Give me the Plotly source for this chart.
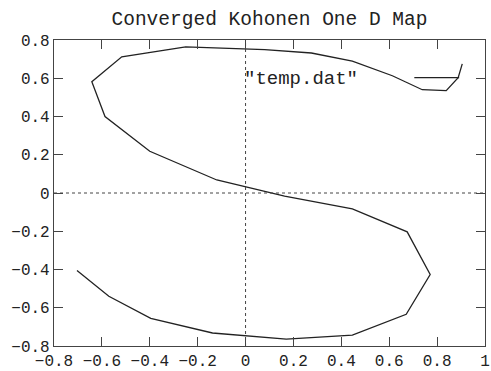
import plotly.graph_objects as go

# Kohonen 1-D map node positions, in chain order
node_x = [-0.704, -0.571, -0.396, -0.138, 0.17, 0.446, 0.671, 0.771, 0.675, 0.446,
          0.163, -0.12, -0.40, -0.587, -0.642, -0.517, -0.25, 0.08, 0.275, 0.446,
          0.613, 0.738, 0.838, 0.888, 0.905]
node_y = [-0.405, -0.54, -0.655, -0.732, -0.764, -0.743, -0.634, -0.426, -0.203, -0.083,
          -0.016, 0.068, 0.218, 0.40, 0.582, 0.712, 0.764, 0.75, 0.732, 0.69,
          0.613, 0.54, 0.535, 0.603, 0.675]

x_ticks = [-0.8, -0.6, -0.4, -0.2, 0, 0.2, 0.4, 0.6, 0.8, 1]
y_ticks = [-0.8, -0.6, -0.4, -0.2, 0, 0.2, 0.4, 0.6, 0.8]

title_text = "Converged Kohonen One D Map"
series_name = '"temp.dat"'

FONT = "Liberation Mono, Courier New, monospace"
INK = "#222222"

fig = go.Figure()
fig.add_trace(go.Scatter(x=node_x, y=node_y, mode="lines",
                         line=dict(color=INK, width=1.3), name=series_name,
                         showlegend=False))

axis_common = dict(showgrid=False, zeroline=False, showline=True, linecolor="#444444",
                   linewidth=1.2, mirror="ticks", ticks="inside", ticklen=9,
                   tickwidth=1.2, tickcolor="#444444", automargin=False,
                   tickfont=dict(family=FONT, size=16, color=INK))

fig.update_xaxes(range=[-0.8, 1], tickvals=x_ticks,
                 ticktext=[("%g" % v).replace("-", "\u2212") for v in x_ticks],
                 ticklabelstandoff=0, **axis_common)
fig.update_yaxes(range=[-0.8, 0.8], tickvals=y_ticks,
                 ticktext=[("%g" % v).replace("-", "\u2212") for v in y_ticks],
                 **axis_common)

# dotted zero axes
fig.add_shape(type="line", xref="x", yref="paper", x0=0, x1=0, y0=0, y1=1,
              line=dict(color="#444444", width=1, dash="dot"))
fig.add_shape(type="line", xref="paper", yref="y", x0=0, x1=1, y0=0, y1=0,
              line=dict(color="#444444", width=1, dash="dot"))

# gnuplot-style key: text then sample line
fig.add_annotation(xref="paper", yref="paper", x=0.71, y=0.873, text=series_name,
                   showarrow=False, xanchor="right", yanchor="middle",
                   font=dict(family=FONT, size=19, color=INK))
fig.add_shape(type="line", xref="paper", yref="paper", x0=0.836, x1=0.94,
              y0=0.877, y1=0.877, line=dict(color=INK, width=1.3))

fig.update_layout(
    width=491, height=371,
    margin=dict(l=54, r=6, t=40, b=25),
    paper_bgcolor="white", plot_bgcolor="white",
    title=dict(text=title_text, xref="paper", x=0.5, xanchor="center",
               y=0.952, yanchor="middle",
               font=dict(family=FONT, size=19.5, color=INK)),
)

fig.write_html("out.html")
